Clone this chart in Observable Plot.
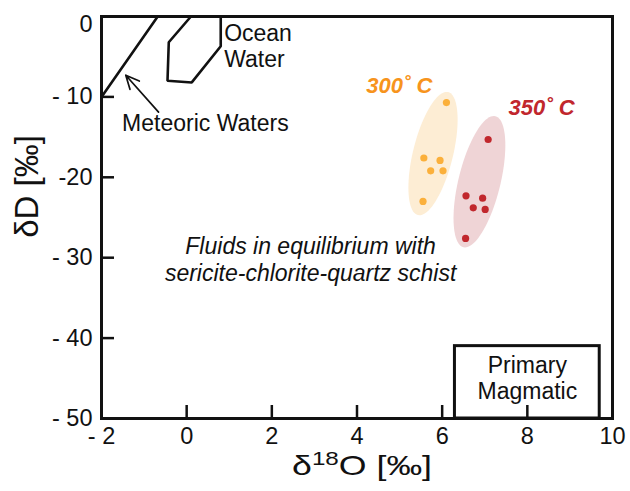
<!DOCTYPE html>
<html><head><meta charset="utf-8">
<script src="https://cdn.jsdelivr.net/npm/d3@7"></script>
<script src="https://cdn.jsdelivr.net/npm/@observablehq/plot@0.6"></script>
<style>body{margin:0;background:#fff}</style>
</head><body><div id="chart"></div>
<script>
// ---- data ----
const xTicks = [-2, 0, 2, 4, 6, 8, 10];
const xTickLabels = ["- 2", "0", "2", "4", "6", "8", "10"];
const yTicks = [0, -10, -20, -30, -40, -50];
const yTickLabels = ["0", "- 10", "-20", "- 30", "- 40", "- 50"];
const xTitle = "δ18O [‰]";
const yTitle = "δD [‰]";

const meteoricX = [-2, -0.68];
const meteoricY = [-10, 0];
const oceanX = [0.1, -0.42, -0.45, 0.12, 0.8, 0.8];
const oceanY = [0, -3.2, -8.0, -8.2, -3.7, 0];

const t300X = [6.10, 5.57, 5.95, 5.73, 6.02, 5.55];
const t300Y = [-10.7, -17.6, -17.9, -19.2, -19.2, -23.0];
const t350X = [7.08, 6.56, 6.95, 6.73, 7.01, 6.55];
const t350Y = [-15.3, -22.3, -22.6, -23.8, -24.0, -27.6];

// ellipse long-axis end points (data units)
const ell300Ends = [[6.14, -9.4], [5.43, -24.7]];
const ell350Ends = [[7.25, -12.4], [6.50, -28.7]];

const magmaticX = [6.3, 9.7];
const magmaticY = [-50, -41];

const arrowFrom = [-0.66, -11.9];
const arrowTo = [-1.43, -7.3];

const annoText = ["Ocean\nWater", "Meteoric Waters", "300˚ C", "350˚ C",
  "Fluids in equilibrium with\nsericite-chlorite-quartz schist", "Primary\nMagmatic"];
const annoX = [0.88, 0.44, 4.22, 7.56, 2.91, 8.0];
const annoY = [-3.65, -13.3, -8.6, -11.4, -30.2, -44.9];

// ---- layout ----
const W = 630, H = 491, mL = 101, mR = 18, mT = 16, mB = 73;
const kx = (W - mL - mR) / 12, ky = (H - mT - mB) / 50;

function ellipse(ends, halfWidthPx, n = 90) {
  const p1 = [ends[0][0] * kx, -ends[0][1] * ky], p2 = [ends[1][0] * kx, -ends[1][1] * ky];
  const cx = (p1[0] + p2[0]) / 2, cy = (p1[1] + p2[1]) / 2;
  const a = Math.hypot(p1[0] - p2[0], p1[1] - p2[1]) / 2;
  const th = Math.atan2(p1[1] - p2[1], p1[0] - p2[0]);
  return d3.range(n).map(i => {
    const t = 2 * Math.PI * i / n;
    const px = cx + a * Math.cos(t) * Math.cos(th) - halfWidthPx * Math.sin(t) * Math.sin(th);
    const py = cy + a * Math.cos(t) * Math.sin(th) + halfWidthPx * Math.sin(t) * Math.cos(th);
    return {x: px / kx, y: -py / ky};
  });
}

const pts300 = t300X.map((x, i) => ({x, y: t300Y[i]}));
const pts350 = t350X.map((x, i) => ({x, y: t350Y[i]}));
const meteoric = meteoricX.map((x, i) => ({x, y: meteoricY[i]}));
const ocean = oceanX.map((x, i) => ({x, y: oceanY[i]}));
const annos = annoText.map((t, i) => ({t, x: annoX[i], y: annoY[i]}));

const font = "'Liberation Sans', Arial, Helvetica, sans-serif";

const svg = Plot.plot({
  width: W, height: H,
  marginLeft: mL, marginRight: mR, marginTop: mT, marginBottom: mB,
  style: {fontFamily: font, fontSize: "23.5px", color: "#111", background: "#fff"},
  x: {domain: [-2, 10], ticks: xTicks, tickSize: 0, tickPadding: 9,
      tickFormat: d => xTickLabels[xTicks.indexOf(d)], label: null},
  y: {domain: [-50, 0], ticks: yTicks, tickSize: 0, tickPadding: 9,
      tickFormat: d => yTickLabels[yTicks.indexOf(d)], label: null},
  marks: [
    Plot.line(ellipse(ell300Ends, 20), {x: "x", y: "y", fill: "#fdedd4", stroke: "none", curve: "linear-closed"}),
    Plot.line(ellipse(ell350Ends, 21), {x: "x", y: "y", fill: "#efd4d6", stroke: "none", curve: "linear-closed"}),
    Plot.dot(pts300, {x: "x", y: "y", r: 3.6, fill: "#fbb03b", stroke: "none"}),
    Plot.dot(pts350, {x: "x", y: "y", r: 3.6, fill: "#c1272d", stroke: "none"}),
    Plot.line(meteoric, {x: "x", y: "y", stroke: "#111", strokeWidth: 2.6}),
    Plot.line(ocean, {x: "x", y: "y", stroke: "#111", strokeWidth: 2.6, curve: "linear-closed", strokeLinejoin: "miter"}),
    Plot.arrow([0], {x1: () => arrowFrom[0], y1: () => arrowFrom[1], x2: () => arrowTo[0], y2: () => arrowTo[1],
      stroke: "#111", strokeWidth: 1.7, headLength: 13, headAngle: 50}),
    Plot.rect([0], {x1: () => magmaticX[0], x2: () => magmaticX[1], y1: () => magmaticY[0], y2: () => magmaticY[1],
      fill: "none", stroke: "#111", strokeWidth: 3}),
    Plot.ruleX(xTicks.slice(1, -1), {x: d => d, y1: -50, y2: -50 + 13 / ky, stroke: "#111", strokeWidth: 2.5}),
    Plot.ruleY(yTicks.slice(1, -1), {y: d => d, x1: -2, x2: -2 + 13 / kx, stroke: "#111", strokeWidth: 2.5}),
    Plot.frame({stroke: "#111", strokeWidth: 3}),
    // annotations
    Plot.text([annos[0]], {x: "x", y: "y", text: "t", textAnchor: "start", fontSize: 23, lineHeight: 1.1, fill: "#111"}),
    Plot.text([annos[1]], {x: "x", y: "y", text: "t", textAnchor: "middle", fontSize: 23, fill: "#111"}),
    Plot.text([annos[2]], {x: "x", y: "y", text: "t", textAnchor: "start", fontSize: 22, fontWeight: "bold", fontStyle: "italic", fill: "#f7941d"}),
    Plot.text([annos[3]], {x: "x", y: "y", text: "t", textAnchor: "start", fontSize: 22, fontWeight: "bold", fontStyle: "italic", fill: "#c1272d"}),
    Plot.text([annos[4]], {x: "x", y: "y", text: "t", textAnchor: "middle", fontSize: 23, fontStyle: "italic", lineHeight: 1.17, fill: "#111"}),
    Plot.text([annos[5]], {x: "x", y: "y", text: "t", textAnchor: "middle", fontSize: 23, lineHeight: 1.12, fill: "#111"}),
    // axis titles
    Plot.text([yTitle], {text: d => d, frameAnchor: "left", rotate: -90, dx: -74, dy: -31, fontSize: 33, textAnchor: "middle", fill: "#111"}),
    Plot.text([xTitle], {text: d => d, frameAnchor: "bottom", dx: 5, dy: 56, fontSize: 28, textAnchor: "middle", fill: "#111"})
  ]
});

// superscript for δ18O, widened like the reference
d3.select(svg).selectAll("text").filter(function () { return this.textContent === xTitle; }).each(function () {
  const t = d3.select(this);
  t.text(null);
  t.append("tspan").text("δ");
  t.append("tspan").attr("font-size", "19px").attr("dy", "-10px").text("18");
  t.append("tspan").attr("dy", "10px").text("O [‰]");
  t.attr("textLength", 140).attr("lengthAdjust", "spacingAndGlyphs");
});
// top "0" label sits just below the frame corner
d3.select(svg).selectAll('g[aria-label="y-axis tick label"] text')
  .filter(function () { return this.textContent === "0"; })
  .attr("dy", 8);

document.getElementById("chart").appendChild(svg);
</script>
</body></html>
